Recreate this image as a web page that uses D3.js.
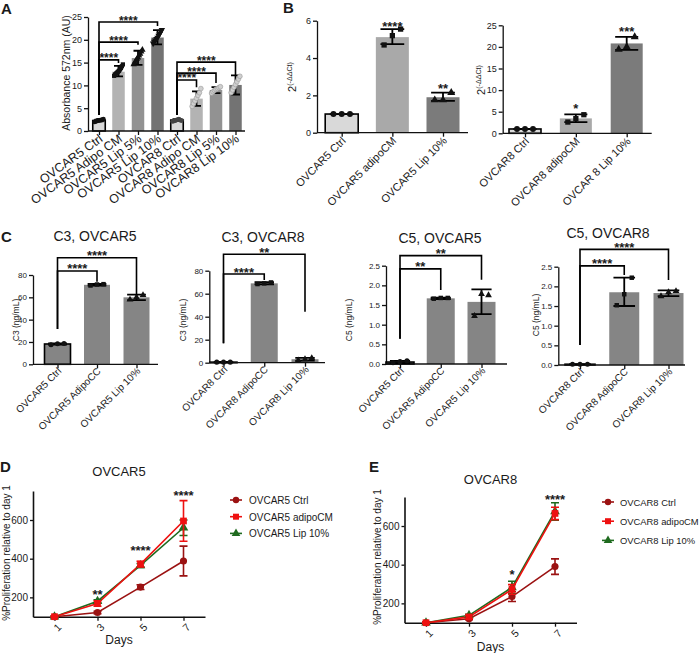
<!DOCTYPE html>
<html>
<head>
<meta charset="utf-8">
<script src="https://cdn.jsdelivr.net/npm/d3@7"></script>
<style>
body { margin: 0; background: #fff; }
svg text { font-family: "Liberation Sans", Arial, sans-serif; fill: #1a1a1a; }
</style>
</head>
<body>
<script>
// ---------- panel A : absorbance ----------
var aCats = ["OVCAR5 Ctrl", "OVCAR5 Adipo CM", "OVCAR5 Lip 5%", "OVCAR5 Lip 10%",
             "OVCAR8 Ctrl", "OVCAR8 Adipo CM", "OVCAR8 Lip 5%", "OVCAR8 Lip 10%"];
var aMeans = [2.3, 13.0, 16.0, 20.5, 2.4, 7.1, 9.0, 10.1];
var aLo = [2.1, 12.0, 14.5, 19.0, 2.2, 5.5, 8.3, 8.0];
var aHi = [2.5, 14.3, 17.6, 22.1, 2.6, 8.7, 9.6, 12.2];
var aPts = [
  [2.0, 2.1, 2.2, 2.3, 2.3, 2.4, 2.4, 2.5, 2.6],
  [12.1, 12.4, 12.6, 12.8, 13.0, 13.2, 13.5, 13.8, 14.2, 14.6],
  [14.6, 15.0, 15.4, 15.8, 16.1, 16.5, 16.9, 17.4, 17.8],
  [19.2, 19.6, 19.9, 20.2, 20.5, 20.9, 21.3, 21.8, 22.2],
  [2.1, 2.2, 2.3, 2.4, 2.5, 2.6, 2.4, 2.3],
  [5.4, 6.0, 6.6, 7.2, 7.8, 8.4, 9.3],
  [8.3, 8.6, 8.9, 9.1, 9.3, 9.5, 9.7],
  [8.4, 9.0, 9.6, 10.2, 10.8, 11.4, 12.0]
];
var aTicks = [0, 5, 10, 15, 20, 25];
var aBrFrom = [0, 0, 0, 4, 4, 4];
var aBrTo = [3, 2, 1, 7, 6, 5];
var aBrY = [23.9, 19.5, 15.6, 15.1, 12.7, 11.2];
var aBrLeg = [23.0, 18.9, 14.9, 12.1, 10.5, 9.6];
var aBrBase = [3.5, 3.5, 3.5, 3.5, 3.5, 3.5];
var aBrText = ["****", "****", "****", "****", "****", "****"];

// ---------- panel B : qPCR ----------
var b5Cats = ["OVCAR5 Ctrl", "OVCAR5 adipoCM", "OVCAR5 Lip 10%"];
var b5Means = [1.0, 5.12, 1.9];
var b5Lo = [1.0, 4.75, 1.7];
var b5Hi = [1.0, 5.55, 2.15];
var b5Pts = [[1, 1, 1], [4.7, 5.2, 5.55], [1.75, 1.75, 2.15]];
var b5Ticks = [0, 2, 4, 6];
var b5Stars = ["", "****", "**"];
var b5StarY = [0, 5.86, 2.55];

var b8Cats = ["OVCAR8 Ctrl", "OVCAR8 adipoCM", "OVCAR 8 Lip 10%"];
var b8Means = [1.0, 3.45, 20.8];
var b8Lo = [1.0, 2.6, 19.3];
var b8Hi = [1.0, 4.4, 22.3];
var b8Pts = [[1, 1, 1], [2.6, 3.4, 4.3], [19.4, 20.0, 22.3]];
var b8Ticks = [0, 5, 10, 15, 20, 25];
var b8Stars = ["", "*", "***"];
var b8StarY = [0, 6.3, 24.3];

// ---------- panel C : ELISA ----------
var c35Cats = ["OVCAR5 Ctrl", "OVCAR5 AdipoCC", "OVCAR5 Lip 10%"];
var c35Means = [18.2, 71.2, 60.0];
var c35Lo = [17.6, 70.4, 57.5];
var c35Hi = [18.8, 72.0, 62.5];
var c35Pts = [[17.6, 18.5, 18.6], [70.6, 71.5, 71.8], [58.0, 60.0, 62.0]];

var c38Cats = ["OVCAR8 Ctrl", "OVCAR8 AdipoCC", "OVCAR8 Lip 10%"];
var c38Means = [0.5, 69.0, 3.0];
var c38Lo = [0.4, 68.2, 1.8];
var c38Hi = [0.6, 70.0, 4.2];
var c38Pts = [[0.5, 0.5, 0.5], [68.4, 69.0, 69.8], [2.0, 3.0, 4.0]];

var c55Cats = ["OVCAR5 Ctrl", "OVCAR5 AdipoCC", "OVCAR5 Lip 10%"];
var c55Means = [0.05, 1.67, 1.58];
var c55Lo = [0.02, 1.65, 1.27];
var c55Hi = [0.08, 1.69, 1.9];
var c55Pts = [[0.03, 0.06, 0.08], [1.66, 1.68, 1.68], [1.22, 1.78, 1.75]];

var c58Cats = ["OVCAR8 Ctrl", "OVCAR8 AdipoCC", "OVCAR8 Lip 10%"];
var c58Means = [0.02, 1.85, 1.83];
var c58Lo = [0.02, 1.5, 1.75];
var c58Hi = [0.02, 2.22, 1.9];
var c58Pts = [[0.02, 0.02, 0.02], [1.52, 1.8, 2.22], [1.75, 1.85, 1.88]];

var c3Ticks = [0, 20, 40, 60, 80];
var c5Ticks = [0, 0.5, 1.0, 1.5, 2.0, 2.5];

// ---------- panels D / E : proliferation ----------
var days = [1, 3, 5, 7];
var dayTicks = [1, 3, 5, 7];
var prolTicks = [200, 400, 600];

var dCtrl = [100, 122, 253, 388], dCtrlSd = [3, 6, 12, 77];
var dAdipo = [100, 168, 372, 595], dAdipoSd = [3, 14, 15, 105];
var dLip = [100, 180, 365, 560], dLipSd = [3, 8, 10, 40];
var dStarDays = [3, 5, 7], dStarText = ["**", "****", "****"], dStarY = [229, 455, 741];
var dNames = ["OVCAR5 Ctrl", "OVCAR5 adipoCM", "OVCAR5 Lip 10%"];

var eCtrl = [100, 120, 235, 390], eCtrlSd = [3, 5, 25, 40];
var eAdipo = [100, 130, 272, 665], eAdipoSd = [3, 8, 25, 32];
var eLip = [100, 138, 282, 675], eLipSd = [3, 6, 32, 45];
var eStarDays = [5, 7], eStarText = ["*", "****"], eStarY = [364, 752];
var eNames = ["OVCAR8 Ctrl", "OVCAR8 adipoCM", "OVCAR8 Lip 10%"];

var svg = d3.select("body").append("svg")
	.attr("width", 699)
	.attr("height", 653);

var shapes = {
	circle: d3.symbolCircle, square: d3.symbolSquare,
	up: d3.symbolTriangle, down: d3.symbolTriangle
};

function styleAxis(g, fs) {
	g.selectAll("path, line").attr("stroke", "#111").attr("stroke-width", 1.3);
	g.selectAll("text").attr("font-size", fs).attr("fill", "#333");
}

function barPanel(p) {
	var g = svg.append("g");
	var x = d3.scalePoint().domain(p.cats).range([p.c0, p.c1]);
	var y = d3.scaleLinear().domain(p.yDomain).range(p.yRange);
	var yb = p.yRange[0];

	var ya = g.append("g")
		.attr("transform", "translate(" + p.x0 + ",0)")
		.call(d3.axisLeft(y).tickValues(p.ticks).tickSize(4).tickSizeOuter(0).tickPadding(2)
			.tickFormat(p.fmt || d3.format("")));
	styleAxis(ya, p.tickFont);

	// bars
	g.selectAll(".bar").data(p.cats).enter().append("rect")
		.attr("x", function(d) { return x(d) - p.bw / 2; })
		.attr("y", function(d, i) { return y(p.means[i]); })
		.attr("width", p.bw)
		.attr("height", function(d, i) { return yb - y(p.means[i]); })
		.attr("fill", function(d, i) { return p.colors[i]; })
		.attr("stroke", function(d, i) { return p.outline[i] ? "#000" : "none"; })
		.attr("stroke-width", 1.6);

	var xa = g.append("g")
		.attr("transform", "translate(0," + yb + ")")
		.call(d3.axisBottom(x).tickSize(4).tickSizeOuter(0).tickFormat(""));
	xa.select(".domain").attr("d", "M" + p.x0 + ",0H" + p.x1);
	styleAxis(xa, p.tickFont);

	// error bars
	var cw = p.bw * 0.36;
	p.cats.forEach(function(d, i) {
		var cx = x(d);
		var path = "M" + cx + "," + y(p.lo[i]) + "V" + y(p.hi[i]) +
			"M" + (cx - cw) + "," + y(p.hi[i]) + "H" + (cx + cw) +
			"M" + (cx - cw) + "," + y(p.lo[i]) + "H" + (cx + cw);
		g.append("path").attr("d", path).attr("stroke", "#000")
			.attr("stroke-width", 1.8).attr("fill", "none");
	});

	// points
	p.cats.forEach(function(d, i) {
		var pts = p.pts[i], n = pts.length;
		pts.forEach(function(v, j) {
			var off = n > 1 ? (j / (n - 1) - 0.5) * p.bw * p.spread : 0;
			var kind = p.shapes[i];
			g.append("path")
				.attr("d", d3.symbol().type(shapes[kind]).size(p.ptSize)())
				.attr("transform", "translate(" + (x(d) + off) + "," + y(v) + ")" + (kind === "down" ? " rotate(180)" : ""))
				.attr("fill", p.ptColor[i])
				.attr("stroke", p.ptStroke ? p.ptStroke[i] : "none")
				.attr("stroke-width", 0.6);
		});
	});

	// significance brackets
	if (p.brFrom) {
		p.brFrom.forEach(function(f, k) {
			var xf = x(p.cats[f]), xt = x(p.cats[p.brTo[k]]);
			g.append("path")
				.attr("d", "M" + xf + "," + y(p.brBase[k]) + "V" + y(p.brY[k]) + "H" + xt + "V" + y(p.brLeg[k]))
				.attr("fill", "none").attr("stroke", "#000").attr("stroke-width", 1.6);
			g.append("text")
				.attr("x", (xf + xt) / 2)
				.attr("y", y(p.brY[k]) + 2.5)
				.attr("text-anchor", "middle")
				.attr("font-size", p.starFont || 13)
				.attr("font-weight", "bold")
				.text(p.brText[k]);
		});
	}

	// stars over bars
	if (p.stars) {
		p.stars.forEach(function(s, i) {
			if (!s) return;
			g.append("text")
				.attr("x", x(p.cats[i]))
				.attr("y", y(p.starY[i]) + 7.4)
				.attr("text-anchor", "middle")
				.attr("font-size", 13)
				.attr("font-weight", "bold")
				.text(s);
		});
	}

	// category labels
	g.selectAll(".xl").data(p.cats).enter().append("text")
		.attr("transform", function(d) {
			return "translate(" + (x(d) + 2) + "," + (yb + p.labOff) + ") rotate(" + (p.labAngle || -45) + ")";
		})
		.attr("text-anchor", "end")
		.attr("dy", "0.35em")
		.attr("font-size", p.labFont)
		.text(function(d) { return d; });

	// y label
	var yl = g.append("text")
		.attr("transform", "translate(" + p.ylx + "," + p.yly + ") rotate(-90)")
		.attr("text-anchor", "middle")
		.attr("font-size", p.ylFont);
	if (p.ylSup) {
		yl.append("tspan").text(p.ylabel);
		yl.append("tspan").attr("dy", "-0.5em").attr("font-size", p.ylFont * 0.65).text(p.ylSup);
	} else {
		yl.text(p.ylabel);
	}

	if (p.title) {
		g.append("text").attr("x", p.tx).attr("y", p.ty)
			.attr("text-anchor", "middle").attr("font-size", 14).text(p.title);
	}
}

function linePanel(p) {
	var g = svg.append("g");
	var x = d3.scaleLinear().domain([0, 8]).range([p.x0, p.x1]);
	var y = d3.scaleLinear().domain([100, 750]).range(p.yRange);

	var ya = g.append("g")
		.attr("transform", "translate(" + p.x0 + ",0)")
		.call(d3.axisLeft(y).tickValues(prolTicks).tickSize(3).tickSizeOuter(0).tickPadding(2));
	styleAxis(ya, 10);
	ya.select(".domain").attr("stroke-width", 1.6);

	var xa = g.append("g")
		.attr("transform", "translate(0," + p.yRange[0] + ")")
		.call(d3.axisBottom(x).tickValues(dayTicks).tickSize(4).tickSizeOuter(0));
	styleAxis(xa, 10.5);
	xa.select(".domain").attr("stroke-width", 1.6);
	xa.selectAll("text")
		.attr("text-anchor", "end")
		.attr("transform", "translate(2,6) rotate(-45)")
		.attr("dy", "0.3em").attr("y", 4);

	var line = d3.line()
		.x(function(d, i) { return x(days[i]); })
		.y(function(d) { return y(d); });

	p.series.forEach(function(s) {
		g.append("path").datum(s.values).attr("d", line)
			.attr("fill", "none").attr("stroke", s.color).attr("stroke-width", 1.6);
	});
	p.series.forEach(function(s) {
		s.values.forEach(function(v, i) {
			var cx = x(days[i]);
			var lo = y(v - s.sd[i]), hi = y(v + s.sd[i]);
			g.append("path")
				.attr("d", "M" + cx + "," + lo + "V" + hi + "M" + (cx - 4) + "," + hi + "H" + (cx + 4) + "M" + (cx - 4) + "," + lo + "H" + (cx + 4))
				.attr("stroke", s.color).attr("stroke-width", 1.6).attr("fill", "none");
			g.append("path")
				.attr("d", d3.symbol().type(shapes[s.shape]).size(s.size)())
				.attr("transform", "translate(" + cx + "," + y(v) + ")")
				.attr("fill", s.color);
		});
	});

	p.starDays.forEach(function(dd, k) {
		g.append("text")
			.attr("x", x(dd)).attr("y", y(p.starY[k]) + 7.4)
			.attr("text-anchor", "middle").attr("font-size", 13).attr("font-weight", "bold")
			.text(p.starText[k]);
	});

	g.append("text").attr("x", (p.x0 + p.x1) / 2).attr("y", p.ty)
		.attr("text-anchor", "middle").attr("font-size", 13).text(p.title);
	g.append("text").attr("x", (p.x0 + p.x1) / 2).attr("y", p.dy)
		.attr("text-anchor", "middle").attr("font-size", 12).text("Days");
	g.append("text")
		.attr("transform", "translate(" + p.ylx + "," + p.yly + ") rotate(-90)")
		.attr("text-anchor", "middle").attr("font-size", 10)
		.text("%Proliferation relative to day 1");

	// legend
	p.series.slice().sort(function(a, b) { return a.order - b.order; }).forEach(function(s, k) {
		var ly = p.ly + k * p.lstep;
		g.append("line").attr("x1", p.lx).attr("x2", p.lx + 12).attr("y1", ly).attr("y2", ly)
			.attr("stroke", s.color).attr("stroke-width", 1.6);
		g.append("path")
			.attr("d", d3.symbol().type(shapes[s.shape]).size(s.size * 0.8)())
			.attr("transform", "translate(" + (p.lx + 6) + "," + ly + ")")
			.attr("fill", s.color);
		g.append("text").attr("x", p.lx + p.lgap).attr("y", ly + 4)
			.attr("font-size", p.lfont).text(s.name);
	});
}

// ---------- draw ----------
var greyA = ["#d9d9d9", "#b3b3b3", "#929292", "#737373", "#d9d9d9", "#b3b3b3", "#929292", "#737373"];
barPanel({
	cats: aCats, means: aMeans, lo: aLo, hi: aHi, pts: aPts,
	colors: greyA, outline: [1, 0, 0, 0, 1, 0, 0, 0],
	shapes: ["circle", "square", "up", "down", "circle", "circle", "circle", "circle"],
	ptColor: ["#111", "#111", "#111", "#111", "#444", "#cfcfcf", "#cfcfcf", "#cfcfcf"],
	ptStroke: ["none", "none", "none", "none", "none", "#999", "#999", "#999"],
	ptSize: 18, spread: 0.7, starFont: 12,
	x0: 88, x1: 245, c0: 99, c1: 235.5, bw: 12.5,
	yDomain: [0, 25], yRange: [131, 17], ticks: aTicks, tickFont: 9,
	brFrom: aBrFrom, brTo: aBrTo, brY: aBrY, brLeg: aBrLeg, brBase: aBrBase, brText: aBrText,
	labOff: 6, labFont: 12.5, labAngle: -36,
	ylabel: "Absorbance 572nm (AU)", ylx: 70, yly: 73, ylFont: 10.5
});

barPanel({
	cats: b5Cats, means: b5Means, lo: b5Lo, hi: b5Hi, pts: b5Pts,
	colors: ["#d9d9d9", "#a9a9a9", "#7b7b7b"], outline: [1, 0, 0],
	shapes: ["circle", "square", "up"], ptColor: ["#111", "#111", "#111"],
	ptSize: 28, spread: 0.5,
	x0: 317, x1: 468, c0: 341.7, c1: 443, bw: 33,
	yDomain: [0, 6], yRange: [132.7, 20.7], ticks: b5Ticks, tickFont: 9,
	stars: b5Stars, starY: b5StarY,
	labOff: 6, labFont: 11,
	ylabel: "2", ylSup: "(-ΔΔCt)", ylx: 296, yly: 77, ylFont: 11
});

barPanel({
	cats: b8Cats, means: b8Means, lo: b8Lo, hi: b8Hi, pts: b8Pts,
	colors: ["#d9d9d9", "#a9a9a9", "#7b7b7b"], outline: [1, 0, 0],
	shapes: ["circle", "square", "up"], ptColor: ["#111", "#111", "#111"],
	ptSize: 28, spread: 0.5,
	x0: 502.7, x1: 651.7, c0: 525, c1: 626.7, bw: 32,
	yDomain: [0, 25], yRange: [133.3, 25.3], ticks: b8Ticks, tickFont: 9,
	stars: b8Stars, starY: b8StarY,
	labOff: 6, labFont: 11,
	ylabel: "2", ylSup: "(-ΔΔCt)", ylx: 485, yly: 80, ylFont: 11
});

var cCommon = {
	colors: ["#858585", "#858585", "#858585"], outline: [1, 0, 0],
	shapes: ["circle", "square", "up"], ptColor: ["#111", "#111", "#111"],
	ptSize: 20, spread: 0.5, tickFont: 8, labOff: 5, labFont: 10, ylFont: 8.5
};

barPanel(Object.assign({}, cCommon, {
	cats: c35Cats, means: c35Means, lo: c35Lo, hi: c35Hi, pts: c35Pts,
	x0: 33, x1: 158, c0: 57.5, c1: 136.5, bw: 26,
	yDomain: [0, 80], yRange: [364.3, 275], ticks: c3Ticks,
	brFrom: [0, 0], brTo: [2, 1], brY: [95.5, 83.6], brLeg: [62, 74], brBase: [31.6, 31.6], brText: ["****", "****"],
	ylabel: "C3 (ng/mL)", ylx: 19, yly: 320,
	title: "C3, OVCAR5", tx: 95, ty: 241
}));

barPanel(Object.assign({}, cCommon, {
	cats: c38Cats, means: c38Means, lo: c38Lo, hi: c38Hi, pts: c38Pts,
	x0: 209.3, x1: 325, c0: 223.5, c1: 305, bw: 27,
	yDomain: [0, 80], yRange: [362.7, 270.7], ticks: c3Ticks,
	brFrom: [0, 0], brTo: [2, 1], brY: [94.3, 77.1], brLeg: [44.3, 72], brBase: [17, 17], brText: ["**", "****"],
	ylabel: "C3 (ng/mL)", ylx: 186, yly: 320,
	title: "C3, OVCAR8", tx: 263, ty: 242
}));

barPanel(Object.assign({}, cCommon, {
	cats: c55Cats, means: c55Means, lo: c55Lo, hi: c55Hi, pts: c55Pts,
	x0: 386, x1: 507, c0: 400, c1: 481.5, bw: 28,
	yDomain: [0, 2.5], yRange: [364, 265.7], ticks: c5Ticks, fmt: d3.format(".1f"),
	brFrom: [0, 0], brTo: [2, 1], brY: [2.755, 2.42], brLeg: [2.14, 1.88], brBase: [0.64, 0.64], brText: ["**", "**"],
	ylabel: "C5 (ng/mL)", ylx: 352, yly: 320,
	title: "C5, OVCAR5", tx: 440, ty: 243
}));

barPanel(Object.assign({}, cCommon, {
	cats: c58Cats, means: c58Means, lo: c58Lo, hi: c58Hi, pts: c58Pts,
	x0: 558.3, x1: 685, c0: 580, c1: 668.5, bw: 30,
	yDomain: [0, 2.5], yRange: [365, 266.7], ticks: c5Ticks, fmt: d3.format(".1f"),
	brFrom: [0, 0], brTo: [2, 1], brY: [2.94, 2.52], brLeg: [2.16, 2.29], brBase: [0.51, 0.51], brText: ["****", "****"],
	ylabel: "C5 (ng/mL)", ylx: 539, yly: 315,
	title: "C5, OVCAR8", tx: 608, ty: 238
}));

var ctrlColor = "#9b1212", adipoColor = "#ee1111", lipColor = "#1f6b1f";

linePanel({
	x0: 33, x1: 205, yRange: [616.7, 491],
	series: [
		{ name: dNames[0], values: dCtrl, sd: dCtrlSd, color: ctrlColor, shape: "circle", size: 40, order: 0 },
		{ name: dNames[2], values: dLip, sd: dLipSd, color: lipColor, shape: "up", size: 40, order: 2 },
		{ name: dNames[1], values: dAdipo, sd: dAdipoSd, color: adipoColor, shape: "square", size: 45, order: 1 }
	],
	starDays: dStarDays, starText: dStarText, starY: dStarY,
	title: "OVCAR5", ty: 476, dy: 644, ylx: 10, yly: 553,
	lx: 230, ly: 500, lstep: 16.7, lgap: 19, lfont: 10
});

linePanel({
	x0: 404.5, x1: 576.5, yRange: [622.7, 497],
	series: [
		{ name: eNames[0], values: eCtrl, sd: eCtrlSd, color: ctrlColor, shape: "circle", size: 40, order: 0 },
		{ name: eNames[2], values: eLip, sd: eLipSd, color: lipColor, shape: "up", size: 40, order: 2 },
		{ name: eNames[1], values: eAdipo, sd: eAdipoSd, color: adipoColor, shape: "square", size: 45, order: 1 }
	],
	starDays: eStarDays, starText: eStarText, starY: eStarY,
	title: "OVCAR8", ty: 484, dy: 651, ylx: 381, yly: 557,
	lx: 602, ly: 502, lstep: 19.2, lgap: 18, lfont: 9.4
});

// panel letters
var letters = [["A", 1, 14], ["B", 283, 13], ["C", 1, 242], ["D", 0, 472], ["E", 369, 472]];
svg.selectAll(".letter").data(letters).enter().append("text")
	.attr("x", function(d) { return d[1]; })
	.attr("y", function(d) { return d[2]; })
	.attr("font-size", 15).attr("font-weight", "bold")
	.text(function(d) { return d[0]; });
</script>
</body>
</html>
